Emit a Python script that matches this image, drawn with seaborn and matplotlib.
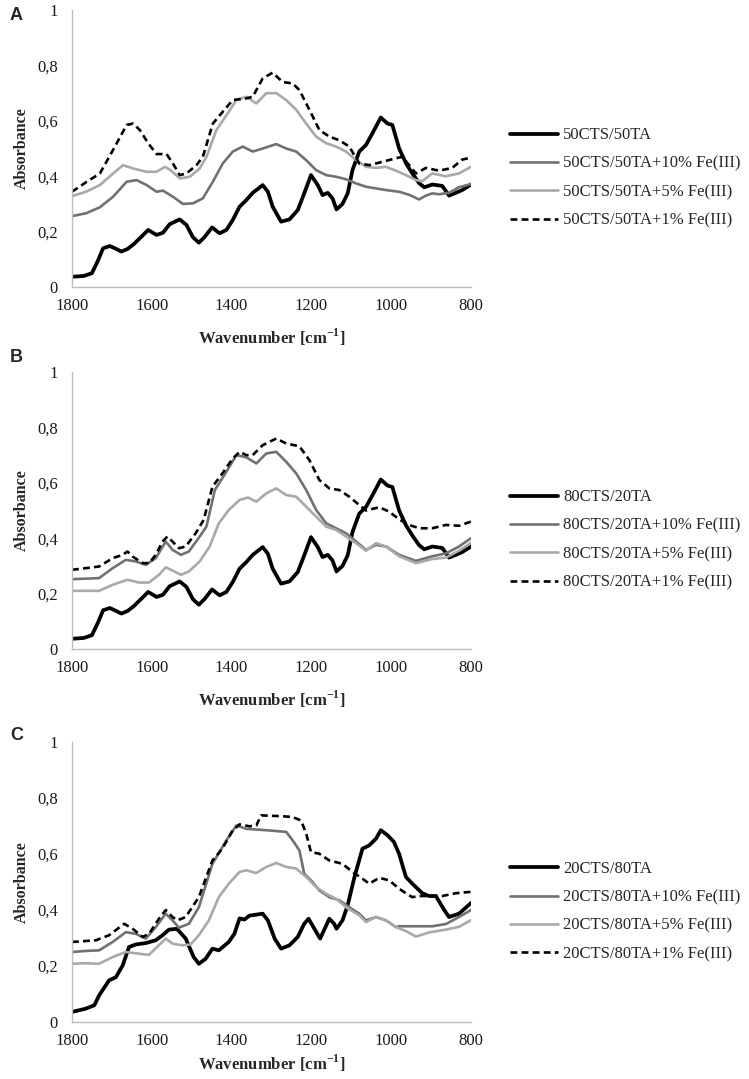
import matplotlib
matplotlib.use("Agg")
import matplotlib.pyplot as plt
import numpy as np
import pandas as pd
import seaborn as sns

# ---------------- data ----------------
wn_ticks = [1800, 1600, 1400, 1200, 1000, 800]
y_ticks = [0, 0.2, 0.4, 0.6, 0.8, 1.0]
y_tick_labels = ["0", "0,2", "0,4", "0,6", "0,8", "1"]

labels_A = ["50CTS/50TA", "50CTS/50TA+10% Fe(III)", "50CTS/50TA+5% Fe(III)", "50CTS/50TA+1% Fe(III)"]
labels_B = ["80CTS/20TA", "80CTS/20TA+10% Fe(III)", "80CTS/20TA+5% Fe(III)", "80CTS/20TA+1% Fe(III)"]
labels_C = ["20CTS/80TA", "20CTS/80TA+10% Fe(III)", "20CTS/80TA+5% Fe(III)", "20CTS/80TA+1% Fe(III)"]

# Panel A
wn_A0 = [1800, 1770, 1750, 1735, 1722, 1705, 1690, 1676, 1660, 1645, 1630, 1609, 1588, 1572, 1555,
         1530, 1513, 1497, 1482, 1468, 1449, 1430, 1413, 1397, 1380, 1363, 1347, 1322, 1309, 1297,
         1276, 1255, 1234, 1218, 1201, 1184, 1172, 1159, 1147, 1137, 1122, 1109, 1097, 1080, 1063,
         1047, 1026, 1009, 997, 980, 963, 947, 930, 917, 897, 872, 855, 838, 822, 800]
ab_A0 = [0.037, 0.040, 0.050, 0.095, 0.140, 0.148, 0.138, 0.128, 0.138, 0.155, 0.176, 0.206, 0.188, 0.196, 0.227,
         0.244, 0.224, 0.180, 0.160, 0.180, 0.215, 0.194, 0.206, 0.242, 0.290, 0.314, 0.340, 0.368, 0.344, 0.290,
         0.236, 0.244, 0.278, 0.338, 0.404, 0.368, 0.332, 0.340, 0.320, 0.280, 0.300, 0.338, 0.422, 0.489, 0.513,
         0.555, 0.612, 0.590, 0.585, 0.500, 0.447, 0.410, 0.375, 0.360, 0.370, 0.365, 0.330, 0.340, 0.350, 0.370]

wn_A10 = [1800, 1765, 1730, 1697, 1663, 1638, 1613, 1588, 1572, 1547, 1522, 1497, 1472, 1447, 1422,
          1397, 1372, 1347, 1322, 1288, 1263, 1238, 1213, 1188, 1163, 1138, 1113, 1088, 1063, 1038,
          1013, 980, 955, 930, 913, 897, 880, 855, 830, 800]
ab_A10 = [0.256, 0.266, 0.288, 0.326, 0.380, 0.386, 0.368, 0.344, 0.348, 0.326, 0.300, 0.302, 0.320, 0.380, 0.446,
          0.489, 0.507, 0.489, 0.500, 0.516, 0.500, 0.489, 0.458, 0.422, 0.404, 0.398, 0.389, 0.374, 0.362, 0.356,
          0.350, 0.344, 0.333, 0.316, 0.330, 0.338, 0.335, 0.340, 0.360, 0.372]

wn_A5 = [1800, 1765, 1730, 1697, 1672, 1647, 1613, 1588, 1567, 1551, 1530, 1505, 1480, 1463, 1438,
         1413, 1388, 1363, 1338, 1313, 1288, 1263, 1238, 1213, 1188, 1163, 1138, 1113, 1088, 1063,
         1038, 1013, 988, 963, 938, 922, 897, 863, 830, 800]
ab_A5 = [0.328, 0.344, 0.368, 0.410, 0.440, 0.428, 0.416, 0.416, 0.434, 0.420, 0.392, 0.398, 0.428, 0.470, 0.567,
         0.620, 0.675, 0.687, 0.663, 0.700, 0.700, 0.675, 0.640, 0.590, 0.543, 0.519, 0.507, 0.489, 0.458, 0.434,
         0.430, 0.434, 0.420, 0.404, 0.386, 0.382, 0.410, 0.400, 0.410, 0.434]

wn_A1 = [1800, 1763, 1730, 1697, 1663, 1647, 1630, 1609, 1588, 1563, 1547, 1530, 1513, 1488, 1472,
         1447, 1422, 1397, 1363, 1347, 1322, 1297, 1272, 1247, 1230, 1205, 1180, 1155, 1130, 1105,
         1080, 1055, 1022, 988, 972, 955, 938, 913, 880, 847, 822, 800]
ab_A1 = [0.344, 0.380, 0.410, 0.495, 0.585, 0.590, 0.567, 0.519, 0.480, 0.480, 0.446, 0.404, 0.410, 0.440, 0.470,
         0.590, 0.633, 0.675, 0.681, 0.687, 0.753, 0.774, 0.740, 0.735, 0.711, 0.640, 0.567, 0.543, 0.530, 0.507,
         0.446, 0.440, 0.452, 0.465, 0.470, 0.440, 0.410, 0.430, 0.420, 0.430, 0.460, 0.467]

# Panel B (the neat 80CTS/20TA trace is identical to panel A's neat trace)
wn_B0 = list(wn_A0)
ab_B0 = list(ab_A0)

wn_B10 = [1800, 1732, 1698, 1665, 1640, 1615, 1590, 1565, 1548, 1527, 1507, 1480, 1463, 1442, 1413,
          1388, 1363, 1338, 1313, 1288, 1263, 1238, 1213, 1188, 1163, 1138, 1113, 1088, 1063, 1038,
          1013, 980, 938, 897, 863, 830, 800]
ab_B10 = [0.252, 0.256, 0.292, 0.322, 0.316, 0.304, 0.328, 0.388, 0.358, 0.340, 0.352, 0.406, 0.442, 0.574, 0.640,
          0.700, 0.692, 0.670, 0.706, 0.712, 0.676, 0.634, 0.574, 0.502, 0.454, 0.436, 0.418, 0.388, 0.358, 0.376,
          0.370, 0.340, 0.318, 0.335, 0.345, 0.370, 0.400]

wn_B5 = [1800, 1732, 1698, 1661, 1632, 1607, 1582, 1565, 1548, 1527, 1507, 1480, 1455, 1432, 1407,
         1380, 1359, 1338, 1313, 1288, 1263, 1238, 1213, 1188, 1163, 1138, 1113, 1088, 1063, 1038,
         1013, 980, 938, 897, 863, 830, 800]
ab_B5 = [0.210, 0.210, 0.232, 0.250, 0.240, 0.240, 0.268, 0.295, 0.283, 0.268, 0.280, 0.316, 0.370, 0.454, 0.502,
         0.538, 0.547, 0.532, 0.562, 0.580, 0.556, 0.550, 0.514, 0.478, 0.442, 0.430, 0.406, 0.382, 0.355, 0.382,
         0.370, 0.335, 0.310, 0.325, 0.330, 0.355, 0.383]

wn_B1 = [1800, 1765, 1732, 1698, 1673, 1661, 1648, 1623, 1607, 1590, 1573, 1561, 1548, 1532, 1515,
         1490, 1470, 1448, 1423, 1397, 1380, 1363, 1347, 1322, 1288, 1263, 1230, 1205, 1180, 1155,
         1130, 1105, 1080, 1063, 1030, 1005, 980, 955, 930, 897, 863, 830, 800]
ab_B1 = [0.286, 0.292, 0.298, 0.328, 0.340, 0.352, 0.334, 0.310, 0.310, 0.340, 0.388, 0.406, 0.388, 0.364, 0.370,
         0.418, 0.466, 0.586, 0.634, 0.688, 0.712, 0.700, 0.700, 0.736, 0.760, 0.742, 0.732, 0.682, 0.610, 0.580,
         0.574, 0.550, 0.520, 0.500, 0.512, 0.496, 0.468, 0.448, 0.436, 0.436, 0.448, 0.445, 0.460]

# Panel C
wn_C0 = [1800, 1765, 1744, 1732, 1707, 1690, 1673, 1657, 1640, 1615, 1590, 1573, 1557, 1537, 1515,
         1495, 1482, 1465, 1448, 1432, 1407, 1393, 1380, 1368, 1355, 1322, 1309, 1292, 1276, 1255,
         1234, 1218, 1207, 1190, 1178, 1155, 1143, 1137, 1122, 1109, 1092, 1072, 1055, 1038, 1026,
         1009, 993, 980, 963, 947, 922, 905, 888, 867, 855, 830, 800]
ab_C0 = [0.036, 0.048, 0.060, 0.095, 0.149, 0.160, 0.202, 0.268, 0.277, 0.282, 0.292, 0.310, 0.330, 0.333, 0.298,
         0.232, 0.208, 0.226, 0.262, 0.256, 0.286, 0.315, 0.370, 0.366, 0.380, 0.387, 0.363, 0.298, 0.262, 0.274,
         0.304, 0.351, 0.369, 0.327, 0.298, 0.369, 0.351, 0.333, 0.363, 0.417, 0.518, 0.619, 0.631, 0.655, 0.685,
         0.667, 0.643, 0.600, 0.518, 0.494, 0.460, 0.450, 0.450, 0.400, 0.375, 0.387, 0.425]

wn_C10 = [1800, 1765, 1732, 1698, 1665, 1640, 1615, 1590, 1565, 1548, 1532, 1507, 1482, 1448, 1413,
          1388, 1363, 1313, 1263, 1247, 1230, 1218, 1197, 1180, 1155, 1130, 1105, 1080, 1063, 1038,
          1013, 988, 980, 897, 863, 830, 800]
ab_C10 = [0.250, 0.254, 0.256, 0.286, 0.321, 0.315, 0.298, 0.339, 0.387, 0.363, 0.337, 0.351, 0.410, 0.565, 0.649,
          0.702, 0.690, 0.685, 0.679, 0.649, 0.613, 0.530, 0.500, 0.470, 0.446, 0.435, 0.410, 0.387, 0.363, 0.375,
          0.363, 0.339, 0.342, 0.342, 0.350, 0.375, 0.400]

wn_C5 = [1800, 1765, 1732, 1698, 1665, 1632, 1607, 1587, 1565, 1548, 1523, 1503, 1482, 1457, 1432,
         1407, 1380, 1363, 1338, 1313, 1288, 1263, 1238, 1213, 1188, 1163, 1138, 1113, 1080, 1063,
         1038, 1013, 988, 963, 938, 905, 863, 830, 800]
ab_C5 = [0.208, 0.210, 0.208, 0.232, 0.250, 0.244, 0.240, 0.268, 0.298, 0.280, 0.274, 0.277, 0.310, 0.363, 0.446,
         0.494, 0.536, 0.542, 0.532, 0.554, 0.568, 0.554, 0.548, 0.518, 0.482, 0.458, 0.440, 0.410, 0.381, 0.357,
         0.375, 0.363, 0.339, 0.325, 0.305, 0.320, 0.330, 0.340, 0.364]

wn_C1 = [1800, 1740, 1707, 1669, 1648, 1623, 1607, 1582, 1565, 1548, 1536, 1515, 1482, 1448, 1423,
         1397, 1380, 1355, 1338, 1326, 1272, 1247, 1226, 1213, 1201, 1180, 1155, 1122, 1097, 1072,
         1055, 1030, 1005, 980, 963, 947, 930, 905, 872, 838, 800]
ab_C1 = [0.286, 0.292, 0.310, 0.351, 0.333, 0.304, 0.315, 0.369, 0.400, 0.375, 0.363, 0.375, 0.446, 0.577, 0.619,
         0.685, 0.706, 0.699, 0.702, 0.738, 0.735, 0.732, 0.720, 0.673, 0.607, 0.601, 0.577, 0.565, 0.536, 0.512,
         0.494, 0.515, 0.506, 0.476, 0.460, 0.446, 0.450, 0.450, 0.450, 0.460, 0.465]

panels = [
    ("A", labels_A, [(wn_A0, ab_A0), (wn_A10, ab_A10), (wn_A5, ab_A5), (wn_A1, ab_A1)]),
    ("B", labels_B, [(wn_B0, ab_B0), (wn_B10, ab_B10), (wn_B5, ab_B5), (wn_B1, ab_B1)]),
    ("C", labels_C, [(wn_C0, ab_C0), (wn_C10, ab_C10), (wn_C5, ab_C5), (wn_C1, ab_C1)]),
]

# ---------------- styling ----------------
sns.set_style("white")
plt.rcParams['font.family'] = ['Liberation Serif', 'DejaVu Serif']
plt.rcParams['mathtext.fontset'] = 'custom'
plt.rcParams['mathtext.rm'] = 'Liberation Serif'
plt.rcParams['mathtext.bf'] = 'Liberation Serif:bold'

line_styles = [
    dict(color="#000000", linewidth=2.7, linestyle="-"),
    dict(color="#717171", linewidth=1.9, linestyle="-"),
    dict(color="#a9a9a9", linewidth=1.9, linestyle="-"),
    dict(color="#000000", linewidth=1.9, linestyle=(0, (2.6, 1.6))),
]

fig = plt.figure(figsize=(7.49, 10.79), dpi=100)
rects = [[0.0961, 0.734, 0.5327, 0.2567],
         [0.0961, 0.3985, 0.5327, 0.2567],
         [0.0961, 0.0528, 0.5327, 0.2595]]
letter_y = [1 - 15 / 1079, 1 - 358 / 1079, 1 - 735 / 1079]
xlabel_y = [-0.142, -0.142, -0.108]

for (letter, labels, series), rect, ly, xly in zip(panels, rects, letter_y, xlabel_y):
    ax = fig.add_axes(rect)
    for (wn, ab), lab, st in zip(series, labels, line_styles):
        df = pd.DataFrame({"Wavenumber": wn, "Absorbance": ab})
        sns.lineplot(data=df, x="Wavenumber", y="Absorbance", ax=ax, sort=False,
                     estimator=None, label=lab, **st)
    ax.set_xlim(1800, 800)
    ax.set_ylim(0, 1)
    ax.set_xticks(wn_ticks)
    ax.set_xticklabels([str(t) for t in wn_ticks])
    ax.set_yticks(y_ticks)
    ax.set_yticklabels(y_tick_labels)
    ax.tick_params(axis="both", length=0, labelsize=12, colors="#1a1a1a")
    ax.tick_params(axis="y", pad=10)
    ax.tick_params(axis="x", pad=8)
    for s in ["top", "right"]:
        ax.spines[s].set_visible(False)
    for s in ["left", "bottom"]:
        ax.spines[s].set_color("#bdbdbd")
        ax.spines[s].set_linewidth(1.0)
    ax.set_xlabel(r"Wavenumber [cm$^{\mathbf{-1}}$]", fontsize=12, fontweight="bold")
    ax.set_ylabel("Absorbance", fontsize=11.5, fontweight="bold")
    ax.xaxis.set_label_coords(0.5, xly)
    ax.yaxis.set_label_coords(-0.105, 0.5)
    ax.legend(loc="center left", bbox_to_anchor=(1.098, 0.394), frameon=False, fontsize=12,
              handlelength=2.9, handletextpad=0.3, labelspacing=0.74,
              borderaxespad=0, borderpad=0)
    fig.text(10 / 749, ly, letter, fontsize=13, fontweight="bold", family="Liberation Sans",
             ha="left", va="center")

fig.savefig("out.png", dpi=100)
